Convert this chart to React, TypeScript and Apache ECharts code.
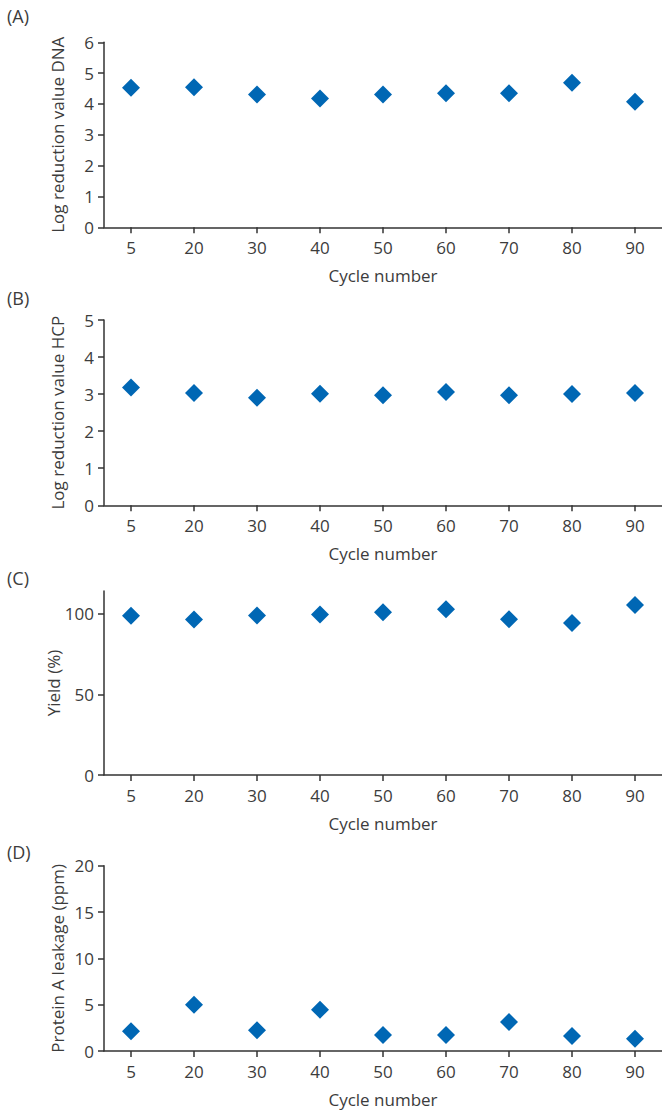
import React, { useEffect, useRef } from "react";
import * as echarts from "echarts";

const cycles = ["5", "20", "30", "40", "50", "60", "70", "80", "90"];
const dnaLRV = [4.53, 4.54, 4.31, 4.18, 4.31, 4.35, 4.35, 4.69, 4.07];
const hcpLRV = [3.18, 3.03, 2.9, 3.01, 2.97, 3.06, 2.97, 3.0, 3.03];
const yieldPct = [98.6, 96.3, 98.8, 99.4, 100.9, 102.7, 96.5, 94.1, 105.4];
const proteinA = [2.12, 5.0, 2.23, 4.46, 1.73, 1.73, 3.13, 1.62, 1.33];

const panelLetters = ["(A)", "(B)", "(C)", "(D)"];
const yNames = ["Log reduction value DNA", "Log reduction value HCP", "Yield (%)", "Protein A leakage (ppm)"];
const yMax = [6, 5, 114, 20];
const yInterval = [1, 1, 50, 5];
const seriesData = [dnaLRV, hcpLRV, yieldPct, proteinA];

const FONT = "'Open Sans', sans-serif";
const TEXT = "#3c3c3c";
const AXIS = "#333333";
const MARK = "#0067b4";

export default function App() {
  const ref = useRef<HTMLDivElement>(null);
  useEffect(() => {
    document.body.style.margin = "0";
    const chart = echarts.init(ref.current!, null, { renderer: "svg" });
    const gridTops = [42.3, 320, 591, 865.7];
    const gridBottoms = [227.3, 505.3, 775, 1051];
    const yNameGaps = [38, 38, 42, 38];
    const idx = cycles.map((_, i) => i);
    const grids = gridTops.map((t, i) => ({
      left: 104,
      right: 0,
      top: t,
      height: gridBottoms[i] - t,
      containLabel: false,
    }));
    const xAxes = grids.map((_, i) => ({
      type: "value",
      gridIndex: i,
      min: -0.4286,
      max: 8.4286,
      name: "Cycle number",
      nameLocation: "middle",
      nameGap: 40,
      nameMoveOverlap: false,
      nameTextStyle: { fontFamily: FONT, fontSize: 17, color: TEXT },
      axisLine: { show: true, onZero: false, lineStyle: { color: AXIS, width: 1.5 } },
      axisTick: { show: true, length: 6, lineStyle: { color: AXIS, width: 1.5 }, customValues: idx },
      axisLabel: {
        customValues: idx,
        margin: 12,
        fontFamily: FONT,
        fontSize: 17,
        color: TEXT,
        formatter: (v: number) => cycles[Math.round(v)],
      },
      splitLine: { show: false },
    }));
    const yAxes = grids.map((_, i) => ({
      type: "value",
      gridIndex: i,
      min: 0,
      max: yMax[i],
      interval: yInterval[i],
      name: yNames[i],
      nameLocation: "middle",
      nameGap: yNameGaps[i],
      nameMoveOverlap: false,
      nameTextStyle: { fontFamily: FONT, fontSize: 17, color: TEXT },
      axisLine: { show: true, onZero: false, lineStyle: { color: AXIS, width: 1.5 } },
      axisTick: { show: true, length: 6, lineStyle: { color: AXIS, width: 1.5 } },
      axisLabel: {
        margin: 10,
        fontFamily: FONT,
        fontSize: 17,
        color: TEXT,
        showMaxLabel: i !== 2,
        formatter: (v: number) => (i === 2 && v > 100 ? "" : String(v)),
      },
      splitLine: { show: false },
    }));
    const series = seriesData.map((d, i) => ({
      type: "scatter",
      xAxisIndex: i,
      yAxisIndex: i,
      symbol: "diamond",
      symbolSize: [18, 18],
      itemStyle: { color: MARK, opacity: 1 },
      data: d.map((v, j) => [j, v]),
    }));
    const letterTops = [18, 300, 580, 854];
    chart.setOption({
      animation: false,
      backgroundColor: "#ffffff",
      grid: grids,
      xAxis: xAxes,
      yAxis: yAxes,
      series,
      graphic: panelLetters.map((t, i) => ({
        type: "text",
        left: 7,
        top: letterTops[i] - 11,
        style: { text: t, fontFamily: FONT, fontSize: 18, fill: TEXT },
      })),
    });
    return () => chart.dispose();
  }, []);
  return <div ref={ref} style={{ width: 662, height: 1112 }} />;
}
